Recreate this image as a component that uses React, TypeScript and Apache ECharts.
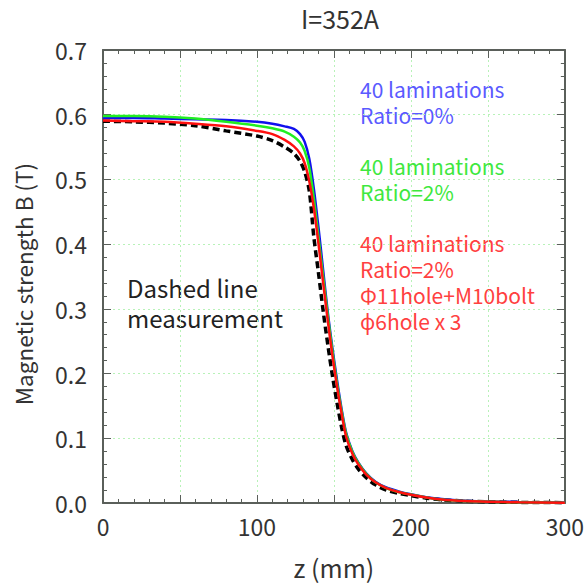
import React, { useEffect, useRef } from "react";
import * as echarts from "echarts";

const zPos = [0, 20, 40, 60, 80, 100, 110, 118, 124, 128, 131, 134, 137, 140, 143, 146, 149, 152, 155, 158, 162, 166, 171, 177, 184, 192, 200, 210, 220, 235, 250, 270, 300];

const ratio0 = [0.595, 0.595, 0.594, 0.593, 0.592, 0.589, 0.586, 0.582, 0.578, 0.570, 0.558, 0.532, 0.485, 0.425, 0.36, 0.295, 0.24, 0.19, 0.145, 0.108, 0.08, 0.062, 0.046, 0.033, 0.024, 0.018, 0.0135, 0.009, 0.006, 0.0035, 0.0025, 0.0015, 0.0008];
const ratio2 = [0.598, 0.598, 0.597, 0.594, 0.589, 0.583, 0.579, 0.574, 0.566, 0.557, 0.544, 0.518, 0.47, 0.41, 0.35, 0.29, 0.235, 0.185, 0.142, 0.106, 0.079, 0.061, 0.045, 0.032, 0.023, 0.017, 0.013, 0.0085, 0.0055, 0.0032, 0.002, 0.001, 0.0005];
const ratio2Hole = [0.591, 0.590, 0.589, 0.586, 0.582, 0.575, 0.570, 0.561, 0.551, 0.540, 0.525, 0.497, 0.455, 0.40, 0.34, 0.282, 0.228, 0.18, 0.138, 0.102, 0.076, 0.059, 0.044, 0.032, 0.023, 0.017, 0.0128, 0.0085, 0.0055, 0.0032, 0.002, 0.001, 0.0005];
const measured = [0.590, 0.589, 0.587, 0.583, 0.575, 0.567, 0.560, 0.550, 0.540, 0.528, 0.512, 0.482, 0.41, 0.355, 0.297, 0.245, 0.197, 0.155, 0.117, 0.088, 0.067, 0.052, 0.039, 0.028, 0.02, 0.015, 0.0115, 0.0075, 0.005, 0.003, 0.0018, 0.001, 0.0005];

const xTicks = [0, 100, 200, 300];

const blueNote = ["40 laminations", "Ratio=0%"];
const greenNote = ["40 laminations", "Ratio=2%"];
const redNote = ["40 laminations", "Ratio=2%", "Φ11hole+M10bolt", "ϕ6hole x 3"];
const dashedNote = ["Dashed line", "measurement"];
const yName = "Magnetic strength B (T)";

const FONT = "'Noto Sans CJK JP', 'Noto Sans', sans-serif";
const AXIS_COLOR = "#5a5f5a";
const GRID_COLOR = "#b8f2b8";

const pairs = (ys: number[]) => zPos.map((x, i) => [x, ys[i]]);

export default function App() {
  const ref = useRef<HTMLDivElement>(null);
  useEffect(() => {
    if (!ref.current) return;
    const chart = echarts.init(ref.current, undefined, { renderer: "svg" });
    const tick = { show: true, inside: true, length: 8, lineStyle: { color: AXIS_COLOR, width: 1 } };
    const minorTick = { show: true, splitNumber: 5, length: 4, lineStyle: { color: AXIS_COLOR, width: 1 } };
    const axisLine = { show: true, onZero: false, lineStyle: { color: AXIS_COLOR, width: 2 } };
    const labelStyle = { color: "#333", fontSize: 23, fontFamily: FONT };
    const noteStyle = (color: string) => ({
      fill: color,
      fontSize: 21,
      lineHeight: 26,
      fontFamily: FONT,
    });

    chart.setOption({
      animation: false,
      title: {
        text: "I=352A",
        left: 335,
        top: 0,
        textAlign: "center",
        textStyle: { color: "#333", fontSize: 25, fontWeight: "normal", fontFamily: FONT },
      },
      grid: { left: 103, right: 21, top: 50, bottom: 70 },
      xAxis: [
        {
          type: "value",
          min: 0,
          max: 300,
          interval: 50,
          name: "z (mm)",
          nameLocation: "middle",
          nameGap: 51,
          nameTextStyle: { color: "#333", fontSize: 25, fontFamily: FONT },
          axisLine,
          axisTick: tick,
          minorTick,
          splitLine: { show: true, lineStyle: { color: GRID_COLOR, type: [2, 3], width: 1 } },
          axisLabel: {
            ...labelStyle,
            margin: 12,
            formatter: (v: number) => (xTicks.includes(v) ? String(v) : ""),
          },
        },
        {
          type: "value",
          position: "top",
          min: 0,
          max: 300,
          interval: 50,
          axisLine,
          axisTick: tick,
          minorTick,
          splitLine: { show: false },
          axisLabel: { show: false },
        },
      ],
      yAxis: [
        {
          type: "value",
          min: 0,
          max: 0.7,
          interval: 0.1,
          axisLine,
          axisTick: tick,
          minorTick,
          splitLine: { show: true, lineStyle: { color: GRID_COLOR, type: [2, 3], width: 1 } },
          axisLabel: { ...labelStyle, margin: 16, formatter: (v: number) => v.toFixed(1) },
        },
        {
          type: "value",
          position: "right",
          min: 0,
          max: 0.7,
          interval: 0.1,
          axisLine,
          axisTick: tick,
          minorTick,
          splitLine: { show: false },
          axisLabel: { show: false },
        },
      ],
      series: [
        {
          name: "measurement",
          type: "line",
          data: pairs(measured),
          smooth: 0.3,
          showSymbol: false,
          lineStyle: { color: "#000", width: 3.5, type: [7, 4] },
          z: 2,
        },
        {
          name: "Ratio=0%",
          type: "line",
          data: pairs(ratio0),
          smooth: 0.3,
          showSymbol: false,
          lineStyle: { color: "#1010ee", width: 2.5 },
          z: 3,
        },
        {
          name: "Ratio=2%",
          type: "line",
          data: pairs(ratio2),
          smooth: 0.3,
          showSymbol: false,
          lineStyle: { color: "#22ee22", width: 2.5 },
          z: 4,
        },
        {
          name: "Ratio=2% holes",
          type: "line",
          data: pairs(ratio2Hole),
          smooth: 0.3,
          showSymbol: false,
          lineStyle: { color: "#ff1010", width: 2.5 },
          z: 5,
        },
      ],
      graphic: [
        {
          type: "text",
          x: 23,
          y: 284,
          rotation: Math.PI / 2,
          style: { text: yName, fill: "#333", fontSize: 22.5, fontFamily: FONT, align: "center", verticalAlign: "middle" },
        },
        { type: "text", left: 360, top: 76, style: { text: blueNote.join("\n"), ...noteStyle("#5a5aff") } },
        { type: "text", left: 360, top: 153, style: { text: greenNote.join("\n"), ...noteStyle("#3ee83e") } },
        { type: "text", left: 360, top: 230, style: { text: redNote.join("\n"), ...noteStyle("#ff4040") } },
        {
          type: "text",
          left: 127,
          top: 272,
          style: { text: dashedNote.join("\n"), fill: "#222", fontSize: 24, lineHeight: 30, fontFamily: FONT },
        },
      ],
    });
    return () => chart.dispose();
  }, []);
  return <div ref={ref} style={{ position: "absolute", left: 0, top: 0, width: 587, height: 584 }} />;
}
